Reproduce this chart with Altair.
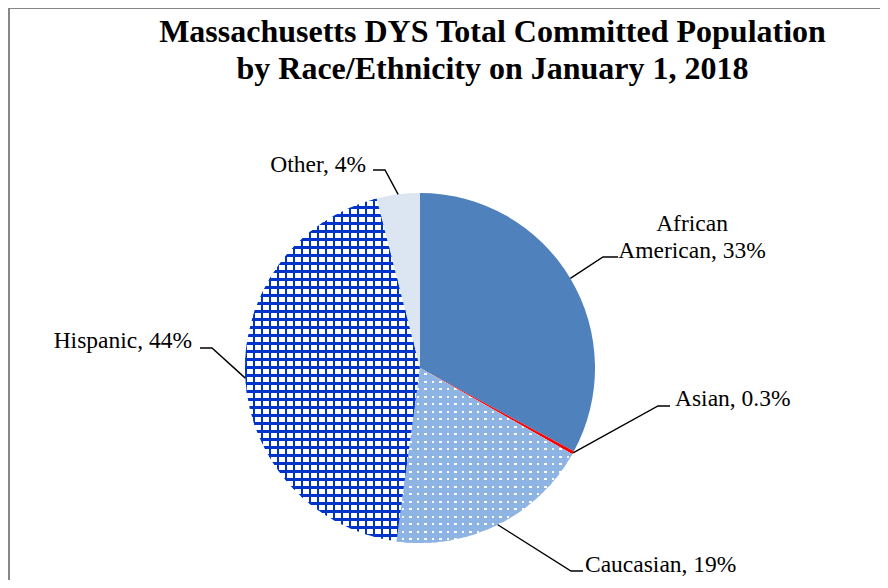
import math
import numpy as np
import pandas as pd
import altair as alt

# ---------------- data ----------------
categories = ["African American", "Asian", "Caucasian", "Hispanic", "Other"]
percents = [33, 0.3, 19, 44, 4]
label_texts = ["African\nAmerican, 33%", "Asian, 0.3%", "Caucasian, 19%",
               "Hispanic, 44%", "Other, 4%"]
title_lines = ["Massachusetts DYS Total Committed Population",
               "by Race/Ethnicity on January 1, 2018"]

# ---------------- layout / style ----------------
W, H = 872, 572
CX, CY, R = 412, 360, 175
FONT = "Liberation Serif"
LABEL_SIZE = 23.5

base_colors = {"African American": "#4F81BD", "Asian": "#FF0000",
               "Caucasian": "#FFFFFF", "Hispanic": "#FFFFFF", "Other": "#DCE6F2"}

# label anchor (x, y baseline, align) and leader elbow / end points
label_layout = {
    "African American": dict(x=684, y=223, align="center", elbow=(595, 249), end=(610, 249)),
    "Asian":            dict(x=667, y=398, align="left",   elbow=(650, 398), end=(662, 398)),
    "Caucasian":        dict(x=577, y=564, align="left",   elbow=(563, 563), end=(575, 563)),
    "Hispanic":         dict(x=184, y=340, align="right",  elbow=(204, 340), end=(192, 340)),
    "Other":            dict(x=358, y=164, align="right",  elbow=(377, 162), end=(365, 162)),
}

total = sum(percents)
starts = np.concatenate([[0], np.cumsum(percents)[:-1]])

df = pd.DataFrame({"cat": categories, "value": percents, "idx": range(len(categories))})


def slice_bbox(i):
    a0 = starts[i] / total * 2 * math.pi
    a1 = (starts[i] + percents[i]) / total * 2 * math.pi
    a = np.linspace(a0, a1, 400)
    xs = np.concatenate([[0], R * np.sin(a)])
    ys = np.concatenate([[0], -R * np.cos(a)])
    return xs.max() - xs.min(), ys.max() - ys.min()


def stripes(color_on, on_w, pitch, extent, vertical_stripes):
    clear = "rgba(255,255,255,0)"
    stops = []
    pos = 0.0
    while pos < extent:
        a = pos / extent
        b = min((pos + on_w) / extent, 1.0)
        c = min((pos + pitch) / extent, 1.0)
        stops += [{"offset": a, "color": color_on}, {"offset": b, "color": color_on},
                  {"offset": b, "color": clear}, {"offset": c, "color": clear}]
        pos += pitch
    g = {"gradient": "linear", "x1": 0, "y1": 0, "stops": stops}
    if vertical_stripes:
        g.update({"x2": 1, "y2": 0})
    else:
        g.update({"x2": 0, "y2": 1})
    return g


ci = categories.index("Caucasian")
hi = categories.index("Hispanic")
cw, ch = slice_bbox(ci)
hw, hh = slice_bbox(hi)

cau_color, cau_pitch, cau_dot = "#8EB4E3", 7.5, 2.2
his_color, his_pitch, his_line = "#0033CC", 8.0, 2.4

grad = {
    True: {"Caucasian": stripes(cau_color, cau_pitch - cau_dot, cau_pitch, cw, True),
           "Hispanic": stripes(his_color, his_line, his_pitch, hw, True)},
    False: {"Caucasian": stripes(cau_color, cau_pitch - cau_dot, cau_pitch, ch, False),
            "Hispanic": stripes(his_color, his_line, his_pitch, hh, False)},
}

theta = alt.Theta("value:Q", stack=True, scale=alt.Scale(domain=[0, total]))
order = alt.Order("idx:Q", sort="ascending")

base_arc = alt.Chart(df).mark_arc(radius=R).encode(
    theta=theta,
    order=order,
    x=alt.value(CX), y=alt.value(CY),
    fill=alt.Fill("cat:N", scale=alt.Scale(domain=categories,
                                           range=[base_colors[c] for c in categories]),
                  legend=None),
)


def stripe_layer(vertical):
    return alt.Chart(df).mark_arc(radius=R).encode(
        theta=theta,
        order=order,
        detail="cat:N",
        x=alt.value(CX), y=alt.value(CY),
        fill={"condition": [
            {"test": "datum.cat === 'Caucasian'", "value": grad[vertical]["Caucasian"]},
            {"test": "datum.cat === 'Hispanic'", "value": grad[vertical]["Hispanic"]},
        ], "value": "transparent"},
    )


# leader lines: slice edge at mid angle -> elbow -> end
rows = []
for i, c in enumerate(categories):
    mid = (starts[i] + percents[i] / 2) / total * 2 * math.pi
    ex, ey = CX + R * math.sin(mid), CY - R * math.cos(mid)
    lay = label_layout[c]
    for k, (px, py) in enumerate([(ex, ey), lay["elbow"], lay["end"]]):
        rows.append({"cat": c, "k": k, "px": px, "py": py})
leaders_df = pd.DataFrame(rows)

leaders = alt.Chart(leaders_df).mark_line(color="black", strokeWidth=1.4).encode(
    x=alt.X("px:Q", scale=None),
    y=alt.Y("py:Q", scale=None),
    detail="cat:N",
    order="k:Q",
)

lab_df = pd.DataFrame({
    "cat": categories,
    "label": label_texts,
    "lx": [label_layout[c]["x"] for c in categories],
    "ly": [label_layout[c]["y"] for c in categories],
    "align": [label_layout[c]["align"] for c in categories],
})


def text_layer(al):
    return alt.Chart(lab_df).transform_filter(f"datum.align === '{al}'").mark_text(
        font=FONT, fontSize=LABEL_SIZE, align=al, baseline="alphabetic",
        lineBreak="\n", lineHeight=27, color="black",
    ).encode(
        x=alt.X("lx:Q", scale=None),
        y=alt.Y("ly:Q", scale=None),
        text="label:N",
    )


title = alt.Chart(df).mark_text(
    font=FONT, fontSize=32, fontWeight="bold", align="center",
    baseline="alphabetic", lineHeight=36.5, color="black",
).encode(
    x=alt.value(484.5), y=alt.value(34), text=alt.value(title_lines)
).transform_filter("datum.idx === 0")

border_v = alt.Chart(df).mark_rule(color="#878787", strokeWidth=2).encode(
    x=alt.value(1), y=alt.value(0), y2=alt.value(H)
).transform_filter("datum.idx === 0")
border_h = alt.Chart(df).mark_rule(color="#878787", strokeWidth=2).encode(
    x=alt.value(0), x2=alt.value(W), y=alt.value(0)
).transform_filter("datum.idx === 0")

chart = alt.layer(
    base_arc, stripe_layer(True), stripe_layer(False),
    leaders, text_layer("left"), text_layer("right"), text_layer("center"),
    title, border_v, border_h,
).properties(
    width=W, height=H, padding=0,
    autosize=alt.AutoSizeParams(type="none"),
    background="white",
).configure_view(stroke=None)

chart.save("out.html", embed_options={"renderer": "svg", "actions": False})
